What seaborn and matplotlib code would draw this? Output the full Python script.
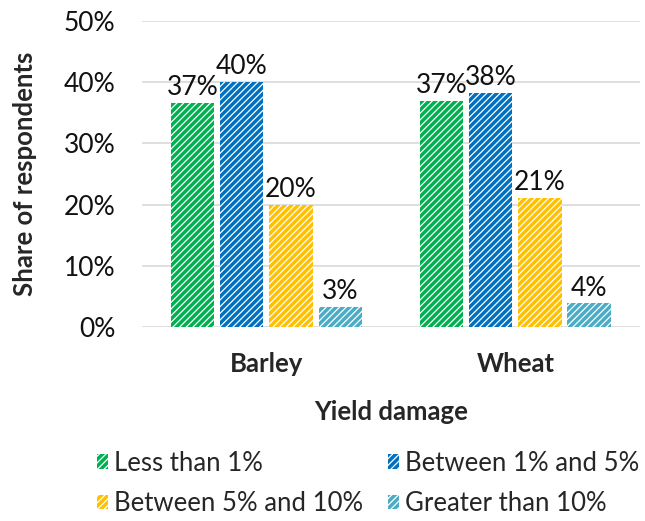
import matplotlib
matplotlib.use("Agg")
import matplotlib.pyplot as plt
from matplotlib.patches import Patch
from matplotlib.ticker import PercentFormatter
import pandas as pd
import seaborn as sns

crops = ["Barley", "Wheat"]
damage_levels = ["Less than 1%", "Between 1% and 5%", "Between 5% and 10%", "Greater than 10%"]
barley_share = [36.6, 40.0, 19.9, 3.3]
wheat_share = [36.9, 38.2, 21.1, 3.9]
colors = ["#00B050", "#0070C0", "#FFC000", "#4BACC6"]

df = pd.DataFrame({
    "crop": [c for c in crops for _ in damage_levels],
    "level": damage_levels * 2,
    "share": barley_share + wheat_share,
})

sns.set_style("white")
plt.rcParams["font.family"] = ["Lato", "DejaVu Sans"]
plt.rcParams["hatch.linewidth"] = 0.9

fig = plt.figure(figsize=(6.45, 5.21), dpi=100)
ax = fig.add_axes([0.22, 0.372, 0.772, 0.588])

sns.barplot(data=df, x="crop", y="share", hue="level", hue_order=damage_levels,
            palette=colors, width=0.79, gap=0.12, legend=False, ax=ax)

for container, col in zip(ax.containers, colors):
    for bar in container:
        bar.set_facecolor(col)
        bar.set_edgecolor("white")
        bar.set_hatch("/////")
        bar.set_linewidth(0)
    ax.bar_label(container, labels=[f"{v:.0f}%" for v in container.datavalues],
                 padding=2, fontsize=19, color="#111111")

ax.set_ylim(0, 50)
ax.set_yticks(range(0, 51, 10))
ax.yaxis.set_major_formatter(PercentFormatter(decimals=0))
ax.grid(axis="y", color="#d9d9d9", linewidth=1.2)
ax.set_axisbelow(True)
sns.despine(ax=ax, left=True, bottom=True)
ax.tick_params(axis="y", length=0, labelsize=19, pad=19, labelcolor="#111111")
ax.tick_params(axis="x", length=0, labelsize=18.5, pad=18)
for lbl in ax.get_xticklabels():
    lbl.set_fontweight("bold")
ax.set_xlabel("Yield damage", fontsize=18.5, fontweight="bold", labelpad=17)
ax.set_ylabel("Share of respondents", fontsize=18.5, fontweight="bold", labelpad=19)

# legend filled row by row, as in the reference
order = [0, 2, 1, 3]
handles = [Patch(facecolor=colors[i], edgecolor="white", hatch="/////", linewidth=0) for i in order]
labels = [damage_levels[i] for i in order]
fig.legend(handles, labels, loc="center left", bbox_to_anchor=(0.15, 0.072), ncol=2,
           frameon=False, fontsize=18.5, handlelength=0.45, handleheight=0.5,
           handletextpad=0.22, columnspacing=0.95, labelspacing=0.6,
           borderpad=0.0, borderaxespad=0.0)

fig.savefig("out.png", dpi=100)
